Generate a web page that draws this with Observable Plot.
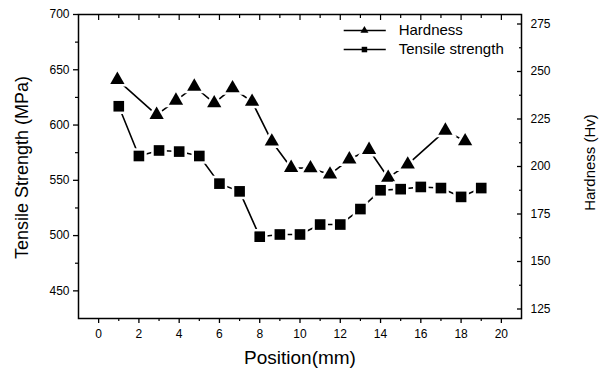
<!DOCTYPE html>
<html><head><meta charset="utf-8">
<script src="https://cdn.jsdelivr.net/npm/d3@7"></script>
<script src="https://cdn.jsdelivr.net/npm/@observablehq/plot@0.6"></script>
<style>
body{margin:0;background:#fff}
#chart{position:relative;width:614px;height:375px}
</style>
</head><body><div id="chart"></div>
<script>
// Tensile strength (MPa), left axis
const tsPosition = [1, 2, 3, 4, 5, 6, 7, 8, 9, 10, 11, 12, 13, 14, 15, 16, 17, 18, 19];
const tsValues   = [617, 572, 577, 576, 572, 547, 540, 499, 501, 501, 510, 510, 524, 541, 542, 544, 543, 535, 543];

// Hardness (Hv), right axis
const hvPosition = [0.93, 2.88, 3.84, 4.75, 5.74, 6.65, 7.62, 8.6, 9.56, 10.52, 11.49, 12.45, 13.43, 14.38, 15.35, 17.22, 18.2];
const hvValues   = [245.6, 227.2, 234.7, 242.1, 233.3, 241.2, 234.1, 213.2, 199.3, 199.1, 195.8, 203.8, 208.8, 194.1, 201.1, 218.9, 213.3];

// Axis ticks
const xMajorTicks = [0, 2, 4, 6, 8, 10, 12, 14, 16, 18, 20];
const xMinorTicks = [1, 3, 5, 7, 9, 11, 13, 15, 17, 19];
const leftMajorTicks = [450, 500, 550, 600, 650, 700];
const leftMinorTicks = [475, 525, 575, 625, 675];
const rightMajorTicks = [125, 150, 175, 200, 225, 250, 275];
const rightMinorTicks = [137.5, 162.5, 187.5, 212.5, 237.5, 262.5];

const seriesNames = ["Hardness", "Tensile strength"];

const leftDomain = [425, 700];
const rightDomain = [120, 280];
const toLeft = h => leftDomain[0] + (h - rightDomain[0]) * (leftDomain[1] - leftDomain[0]) / (rightDomain[1] - rightDomain[0]);
const fromLeft = v => rightDomain[0] + (v - leftDomain[0]) * (rightDomain[1] - rightDomain[0]) / (leftDomain[1] - leftDomain[0]);

const tsData = tsPosition.map((p, i) => ({pos: p, v: tsValues[i]}));
const hvData = hvPosition.map((p, i) => ({pos: p, v: toLeft(hvValues[i])}));

// legend rows (data coords inside the frame)
const legend = [
  {name: seriesNames[0], symbol: "triangle", r: 3.2, y: 685.5},
  {name: seriesNames[1], symbol: "square", r: 3.5, y: 668.3}
];
const legX1 = 12.17, legX2 = 14.26, legXM = 13.2, legXT = 14.9;

const font = "'Liberation Sans', Arial, Helvetica, sans-serif";
const blank = () => "";

const chart = Plot.plot({
  width: 614, height: 375,
  marginLeft: 78, marginRight: 93, marginTop: 14, marginBottom: 57,
  style: {fontFamily: font, fontSize: "12px", color: "#000", background: "#fff", overflow: "visible"},
  x: {domain: [-1, 21]},
  y: {domain: leftDomain},
  marks: [
    Plot.axisX(xMajorTicks, {anchor: "bottom", tickSize: 5, tickPadding: 6, fontSize: 12, label: null, strokeWidth: 1.3}),
    Plot.axisX(xMinorTicks, {anchor: "bottom", tickSize: 3, tickFormat: blank, label: null, strokeWidth: 1.2}),
    Plot.axisX(xMajorTicks, {anchor: "top", tickSize: -5, tickFormat: blank, label: null, strokeWidth: 1.2}),
    Plot.axisX(xMinorTicks, {anchor: "top", tickSize: -3, tickFormat: blank, label: null, strokeWidth: 1.2}),
    Plot.axisY(leftMajorTicks, {anchor: "left", tickSize: 5, tickPadding: 4, fontSize: 12, label: null, strokeWidth: 1.3}),
    Plot.axisY(leftMinorTicks, {anchor: "left", tickSize: 3, tickFormat: blank, label: null, strokeWidth: 1.2}),
    Plot.axisY(rightMajorTicks.map(toLeft), {anchor: "right", tickSize: -5, tickPadding: 14, fontSize: 12, textAnchor: "start", tickFormat: d => Math.round(fromLeft(d)), label: null, strokeWidth: 1.3}),
    Plot.axisY(rightMinorTicks.map(toLeft), {anchor: "right", tickSize: -3, tickFormat: blank, label: null, strokeWidth: 1.2}),
    Plot.frame({stroke: "#000", strokeWidth: 1.5}),

    Plot.line(hvData, {x: "pos", y: "v", stroke: "#000", strokeWidth: 1.6}),
    Plot.line(tsData, {x: "pos", y: "v", stroke: "#000", strokeWidth: 1.6}),
    Plot.dot(hvData, {x: "pos", y: "v", symbol: "triangle", r: 5.3, fill: "#000", stroke: "#fff", strokeWidth: 5, paintOrder: "stroke"}),
    Plot.dot(tsData, {x: "pos", y: "v", symbol: "square", r: 6, fill: "#000", stroke: "#fff", strokeWidth: 5, paintOrder: "stroke"}),

    // legend
    Plot.link(legend, {x1: () => legX1, x2: () => legX2, y1: "y", y2: "y", stroke: "#000", strokeWidth: 1.6}),
    Plot.dot(legend, {x: () => legXM, y: "y", symbol: d => d.symbol, r: "r", fill: "#000", stroke: "none"}),
    Plot.text(legend, {x: () => legXT, y: "y", text: "name", textAnchor: "start", fontSize: 15, fill: "#000"}),

    // axis titles
    Plot.text(["Tensile Strength (MPa)"], {frameAnchor: "left", textAnchor: "middle", lineAnchor: "middle", dx: -56, dy: 1, rotate: -90, fontSize: 18, fill: "#000"}),
    Plot.text(["Hardness (Hv)"], {frameAnchor: "right", textAnchor: "middle", lineAnchor: "middle", dx: 69, dy: -4, rotate: -90, fontSize: 15, fill: "#000"}),
    Plot.text(["Position(mm)"], {frameAnchor: "bottom", textAnchor: "middle", lineAnchor: "middle", dy: 39.5, fontSize: 19, fill: "#000"})
  ]
});
document.getElementById("chart").appendChild(chart);
</script>
</body></html>
